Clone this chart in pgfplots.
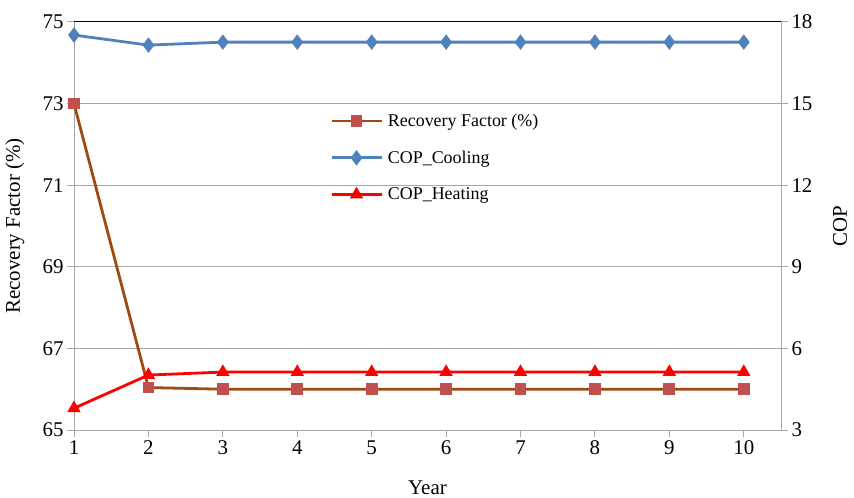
\documentclass[border=0pt]{standalone}
\usepackage{pgfplots}
\pgfplotsset{compat=1.18}
\usepackage{fontspec}
\setmainfont{Liberation Serif}

\definecolor{rfline}{HTML}{9E4A12}
\definecolor{rfmark}{HTML}{C0504D}
\definecolor{coolblue}{HTML}{4F81BD}
\definecolor{heatred}{HTML}{FF0000}
\definecolor{gridgray}{HTML}{A6A6A6}

\pgfplotsset{
  chartbase/.style={
    scale only axis,
    width=707bp, height=408bp,
    xmin=1, xmax=10.5,
    font=\fontsize{21}{23}\selectfont,
    /pgf/number format/assume math mode=true,
    tick align=outside,
    major tick length=7bp,
    axis line style={gridgray, line width=1pt},
    tick style={gridgray, line width=1pt},
  },
}

\begin{document}
\begin{tikzpicture}
\useasboundingbox (-74bp,-68bp) rectangle (780bp,430bp);

\begin{axis}[
  chartbase,
  axis x line*=bottom,
  axis y line*=left,
  ymin=65, ymax=75,
  ytick={65,67,...,75},
  xtick={1,...,10},
  ymajorgrids=true,
  major grid style={gridgray, line width=1pt},
  xlabel={Year},
  ylabel={Recovery Factor (\%)},
  xlabel style={at={(rel axis cs:0.5,0)}, anchor=center, yshift=-58bp},
  ylabel style={at={(rel axis cs:0,0.5)}, anchor=center, yshift=59bp},
]
\addplot[rfline, line width=2.8pt, mark=square*,
  mark options={rfmark, draw=rfmark, solid}, mark size=4.5bp]
coordinates {
  (1,73.0) (2,66.04) (3,66.0) (4,66.0) (5,66.0)
  (6,66.0) (7,66.0) (8,66.0) (9,66.0) (10,66.0)
};
\draw[black, line width=1pt] (rel axis cs:0,1) -- (rel axis cs:1,1);
\end{axis}

\begin{axis}[
  chartbase,
  axis x line=none,
  axis y line*=right,
  ymin=3, ymax=18,
  ytick={3,6,...,18},
  ylabel={COP},
  ylabel style={at={(rel axis cs:1,0.5)}, anchor=center, yshift=-59bp},
  legend cell align=left,
  legend style={draw=none, fill=none, at={(0.362,0.78)}, anchor=north west,
    font=\fontsize{18}{20}\selectfont, row sep=19bp,
    inner sep=0pt, nodes={inner xsep=5bp}},
  legend image code/.code={
    \draw[mark repeat=2, mark phase=2, #1]
      plot coordinates {(0bp,0bp) (25bp,0bp) (50bp,0bp)};
  },
]
\addlegendimage{rfline, line width=2.8pt, mark=square*,
  mark options={rfmark, draw=rfmark, solid}, mark size=4.5bp}
\addlegendentry{Recovery Factor (\%)}

\addplot[coolblue, line width=2.8pt, mark=diamond*,
  mark options={solid}, mark size=5.5bp]
coordinates {
  (1,17.52) (2,17.15) (3,17.26) (4,17.26) (5,17.26)
  (6,17.26) (7,17.26) (8,17.26) (9,17.26) (10,17.26)
};
\addlegendentry{COP\_Cooling}

\addplot[heatred, line width=2.8pt, mark=triangle*,
  mark options={solid}, mark size=5bp]
coordinates {
  (1,3.80) (2,5.02) (3,5.13) (4,5.13) (5,5.13)
  (6,5.13) (7,5.13) (8,5.13) (9,5.13) (10,5.13)
};
\addlegendentry{COP\_Heating}
\end{axis}
\end{tikzpicture}
\end{document}
